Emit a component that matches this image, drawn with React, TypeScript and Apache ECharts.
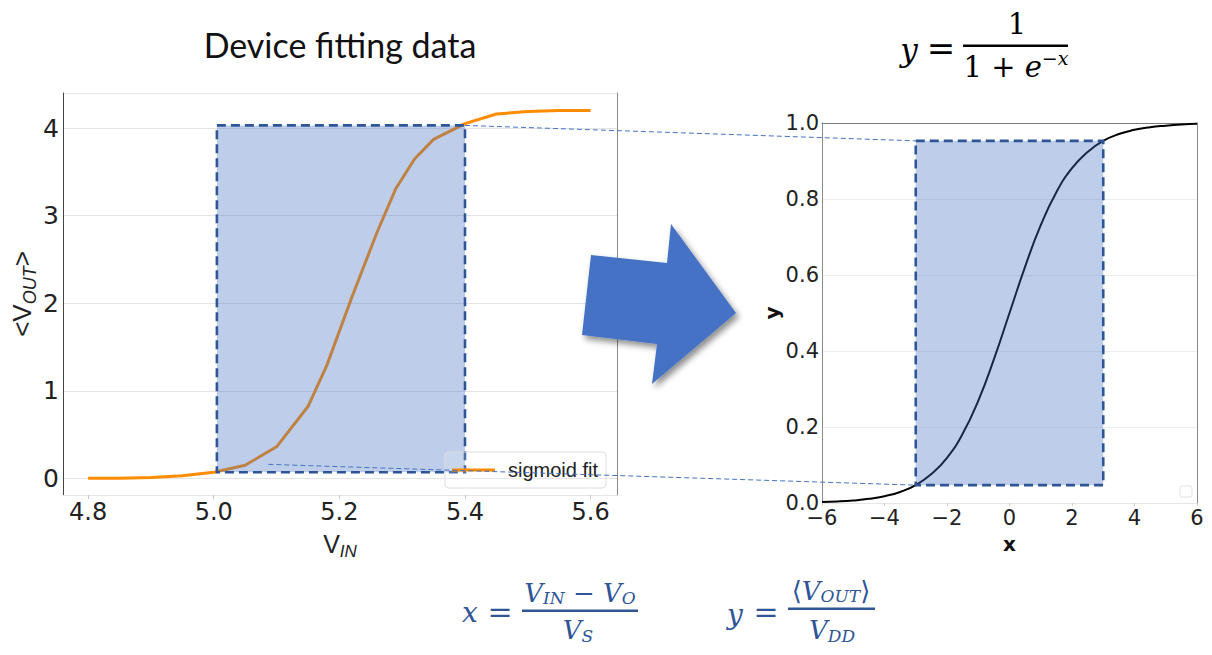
import React, { useEffect, useRef } from "react";
import * as echarts from "echarts";

// ---------- data ----------
const vinValues = [4.8, 4.85, 4.9, 4.95, 5.0, 5.05, 5.1, 5.15, 5.18, 5.22, 5.26, 5.29, 5.32, 5.35, 5.4, 5.45, 5.5, 5.55, 5.6];
const voutValues = [0.0, 0.0, 0.01, 0.03, 0.07, 0.15, 0.36, 0.82, 1.29, 2.07, 2.81, 3.31, 3.65, 3.87, 4.05, 4.16, 4.19, 4.2, 4.2];

const sigX = [-6, -5.5, -5, -4.5, -4, -3.5, -3, -2.5, -2, -1.5, -1, -0.5, 0, 0.5, 1, 1.5, 2, 2.5, 3, 3.5, 4, 4.5, 5, 5.5, 6];
const sigY = [0.0025, 0.004, 0.0067, 0.011, 0.018, 0.029, 0.047, 0.076, 0.119, 0.182, 0.269, 0.378, 0.5, 0.622, 0.731, 0.818, 0.881, 0.924, 0.953, 0.971, 0.982, 0.989, 0.993, 0.996, 0.998];

// highlighted windows [x0, y0, x1, y1]
const leftWindow = [5.005, 0.07, 5.4, 4.03];
const rightWindow = [-3, 0.047, 3, 0.953];

// connector end points (left chart data coords -> right chart data coords)
const connectorTop = [[5.4, 4.03], [-3, 0.953]];
const connectorBottom = [[5.087, 0.16], [-3, 0.047]];

const legendLabel = "sigmoid fit";
const leftTitle = "Device fitting data";

// ---------- helpers ----------
const measureCtx = typeof document !== "undefined" ? document.createElement("canvas").getContext("2d") : null;
function textWidth(t: string, font: string) {
  if (!measureCtx) return t.length * 10;
  measureCtx.font = font;
  return measureCtx.measureText(t).width;
}
type Tok = { t: string; size: number; italic?: boolean; dy?: number; fam?: string; gap?: number };
function fontOf(tk: Tok, fam: string) {
  return `${tk.italic ? "italic " : ""}${tk.size}px "${tk.fam || fam}"`;
}
function formulaRow(tokens: Tok[], cx: number, cy: number, color: string, fam: string) {
  const ws = tokens.map((tk) => textWidth(tk.t, fontOf(tk, fam)) + (tk.gap || 0));
  const total = ws.reduce((a, b) => a + b, 0);
  let x = cx - total / 2;
  return tokens.map((tk, i) => {
    const el = {
      type: "text",
      x,
      y: cy + (tk.dy || 0),
      z: 20,
      style: {
        text: tk.t,
        font: fontOf(tk, fam),
        fill: color,
        align: "left",
        textAlign: "left",
        verticalAlign: "middle",
        textVerticalAlign: "middle",
      },
    };
    x += ws[i];
    return el;
  });
}

function windowSeries(xAxisIndex: number, yAxisIndex: number, win: number[]) {
  return {
    type: "custom",
    xAxisIndex,
    yAxisIndex,
    z: 5,
    silent: true,
    data: [win],
    encode: { x: [0, 2], y: [1, 3] },
    renderItem: (_p: any, api: any) => {
      const a = api.coord([api.value(0), api.value(3)]);
      const b = api.coord([api.value(2), api.value(1)]);
      return {
        type: "rect",
        shape: { x: a[0], y: a[1], width: b[0] - a[0], height: b[1] - a[1] },
        style: {
          fill: "rgba(68,114,196,0.35)",
          stroke: "#2f5597",
          lineWidth: 2.6,
          lineDash: [9, 5],
        },
      };
    },
  };
}

export default function App() {
  const ref = useRef<HTMLDivElement>(null);
  useEffect(() => {
    if (!ref.current) return;
    const chart = echarts.init(ref.current, undefined, { renderer: "svg" });
    const leftFont = "Liberation Sans";
    const tickFont = "DejaVu Sans";
    const rightFont = "DejaVu Sans";
    const mathFont = "DejaVu Serif";
    const option: any = {
      animation: false,
      backgroundColor: "#ffffff",
      grid: [
        { left: 63, top: 93, width: 554, height: 402 },
        { left: 822, top: 123, width: 375, height: 380 },
      ],
      legend: {
        data: [{ name: legendLabel, icon: "rect" }],
        left: 445,
        top: 452,
        orient: "vertical",
        padding: [8, 8, 8, 7],
        itemWidth: 43,
        itemHeight: 3,
        itemGap: 0,
        borderColor: "#dedede",
        borderWidth: 1,
        borderRadius: 4,
        backgroundColor: "rgba(255,255,255,0.15)",
        textStyle: { fontFamily: leftFont, fontSize: 20, color: "#222", padding: [0, 0, 0, 8] },
        z: 8,
      },
      xAxis: [
        {
          type: "value",
          gridIndex: 0,
          min: 4.76,
          max: 5.642,
          minInterval: 0.2,
          maxInterval: 0.2,
          axisLine: { show: true, onZero: false, lineStyle: { color: "#e6e6e6", width: 1 } },
          axisTick: { show: true, length: 4, lineStyle: { color: "#c8c8c8" } },
          axisLabel: {
            fontFamily: tickFont,
            fontSize: 24,
            color: "#222",
            margin: 5,
            showMinLabel: false,
            showMaxLabel: false,
            formatter: (v: number) => v.toFixed(1),
          },
          splitLine: { show: false },
          name: "{v|V}{s|IN}",
          nameLocation: "middle",
          nameGap: 36,
          nameTextStyle: {
            rich: {
              v: { fontFamily: leftFont, fontSize: 25, color: "#222", verticalAlign: "bottom", padding: [0, 0, 4, 0] },
              s: { fontFamily: leftFont, fontSize: 17, fontStyle: "italic", color: "#222", verticalAlign: "bottom" },
            },
          },
        },
        {
          type: "value",
          gridIndex: 1,
          min: -6,
          max: 6,
          interval: 2,
          axisLine: { show: true, onZero: false, lineStyle: { color: "#e6e6e6", width: 1 } },
          axisTick: { show: true, length: 3, lineStyle: { color: "#cfcfcf" } },
          axisLabel: {
            fontFamily: rightFont,
            fontSize: 21,
            color: "#222",
            margin: 4,
            formatter: (v: number) => (v < 0 ? "\u2212" + Math.abs(v) : String(v)),
          },
          splitLine: { show: false },
          name: "x",
          nameLocation: "middle",
          nameGap: 31,
          nameTextStyle: { fontFamily: rightFont, fontSize: 20, fontWeight: "bold", color: "#111" },
        },
        {
          type: "value",
          gridIndex: 1,
          position: "top",
          min: -6,
          max: 6,
          axisLine: { show: true, onZero: false, lineStyle: { color: "#7a7a7a", width: 1 } },
          axisTick: { show: false },
          axisLabel: { show: false },
          splitLine: { show: false },
        },
      ],
      yAxis: [
        {
          type: "value",
          gridIndex: 0,
          min: -0.19,
          max: 4.4,
          minInterval: 1,
          maxInterval: 1,
          axisLine: { show: true, onZero: false, lineStyle: { color: "#444", width: 1 } },
          axisTick: { show: false },
          axisLabel: {
            fontFamily: tickFont,
            fontSize: 25,
            color: "#222",
            margin: 4,
            showMinLabel: false,
            showMaxLabel: false,
          },
          splitLine: { show: true, lineStyle: { color: "#e4e4e4", width: 1 } },
          name: "{a|<V}{s|OUT}{a|>}",
          nameLocation: "middle",
          nameGap: 24,
          nameTextStyle: {
            rich: {
              a: { fontFamily: leftFont, fontSize: 26, color: "#222", verticalAlign: "bottom", padding: [0, 0, 4, 0] },
              s: { fontFamily: leftFont, fontSize: 18, fontStyle: "italic", color: "#222", verticalAlign: "bottom" },
            },
          },
        },
        {
          type: "value",
          gridIndex: 0,
          position: "right",
          min: 0,
          max: 1,
          axisLine: { show: true, onZero: false, lineStyle: { color: "#8a8a8a", width: 1 } },
          axisTick: { show: false },
          axisLabel: { show: false },
          splitLine: { show: false },
        },
        {
          type: "value",
          gridIndex: 1,
          min: 0,
          max: 1,
          interval: 0.2,
          axisLine: { show: true, onZero: false, lineStyle: { color: "#8a8a8a", width: 1 } },
          axisTick: { show: false },
          axisLabel: {
            fontFamily: rightFont,
            fontSize: 21,
            color: "#222",
            margin: 3,
            formatter: (v: number) => v.toFixed(1),
          },
          splitLine: { show: true, lineStyle: { color: "#ededed", width: 1 } },
          name: "y",
          nameLocation: "middle",
          nameGap: 40,
          nameTextStyle: { fontFamily: rightFont, fontSize: 20, fontWeight: "bold", color: "#111" },
        },
        {
          type: "value",
          gridIndex: 1,
          position: "right",
          min: 0,
          max: 1,
          axisLine: { show: true, onZero: false, lineStyle: { color: "#8a8a8a", width: 1 } },
          axisTick: { show: false },
          axisLabel: { show: false },
          splitLine: { show: false },
        },
      ],
      series: [
        {
          name: legendLabel,
          type: "line",
          xAxisIndex: 0,
          yAxisIndex: 0,
          symbol: "none",
          lineStyle: { color: "#ff8c00", width: 3 },
          itemStyle: { color: "#ff8c00" },
          data: vinValues.map((x, i) => [x, voutValues[i]]),
          z: 3,
        },
        windowSeries(0, 0, leftWindow),
        {
          name: "sigmoid",
          type: "line",
          xAxisIndex: 1,
          yAxisIndex: 2,
          symbol: "none",
          smooth: true,
          lineStyle: { color: "#000000", width: 2 },
          data: sigX.map((x, i) => [x, sigY[i]]),
          z: 3,
        },
        windowSeries(1, 2, rightWindow),
      ],
    };
    chart.setOption(option);

    const L = (p: number[]) => chart.convertToPixel({ xAxisIndex: 0, yAxisIndex: 0 }, p) as number[];
    const R = (p: number[]) => chart.convertToPixel({ xAxisIndex: 1, yAxisIndex: 2 }, p) as number[];
    const t0 = L(connectorTop[0]);
    const t1 = R(connectorTop[1]);
    const b0 = L(connectorBottom[0]);
    const b1 = R(connectorBottom[1]);
    const connStyle = { stroke: "#4472c4", lineWidth: 1, lineDash: [5, 3] };

    const blue = "#2f5597";
    const graphic: any[] = [
      {
        type: "text",
        x: 340,
        y: 44,
        z: 20,
        style: {
          text: leftTitle,
          font: '34px "Lato"',
          fill: "#111",
          align: "center",
          textAlign: "center",
          verticalAlign: "middle",
          textVerticalAlign: "middle",
        },
      },
      // arrow
      {
        type: "polygon",
        z: 20,
        shape: { points: [[591, 255], [667, 263], [671, 224], [736, 313], [652, 384], [657, 344], [582, 335]] },
        style: {
          fill: "#4472c4",
          shadowBlur: 6,
          shadowOffsetX: 3,
          shadowOffsetY: 4,
          shadowColor: "rgba(0,0,0,0.45)",
        },
      },
      { type: "line", z: 15, shape: { x1: t0[0], y1: t0[1], x2: t1[0], y2: t1[1] }, style: connStyle },
      { type: "line", z: 15, shape: { x1: b0[0], y1: b0[1], x2: b1[0], y2: b1[1] }, style: connStyle },
      // tiny empty legend box in right chart
      { type: "rect", z: 15, shape: { x: 1180, y: 486, width: 12, height: 11, r: 2 }, style: { fill: "rgba(255,255,255,0)", stroke: "#e2e2e2", lineWidth: 1 } },
      // top formula
      ...formulaRow([{ t: "y", size: 31, italic: true }], 909, 50, "#000", mathFont),
      ...formulaRow([{ t: "=", size: 34 }], 941, 48, "#000", mathFont),
      { type: "rect", z: 20, shape: { x: 963, y: 44.5, width: 105, height: 2.5 }, style: { fill: "#000" } },
      ...formulaRow([{ t: "1", size: 29 }], 1017, 24, "#000", mathFont),
      ...formulaRow(
        [
          { t: "1 + ", size: 29 },
          { t: "e", size: 29, italic: true },
          { t: "\u2212x", size: 19, italic: true, dy: -9 },
        ],
        1016,
        67,
        "#000",
        mathFont
      ),
      // bottom formula x
      ...formulaRow([{ t: "x", size: 28, italic: true }], 470, 612, blue, mathFont),
      ...formulaRow([{ t: "=", size: 30 }], 500, 611, blue, mathFont),
      { type: "rect", z: 20, shape: { x: 522, y: 609.5, width: 116, height: 2.5 }, style: { fill: blue } },
      ...formulaRow(
        [
          { t: "V", size: 26, italic: true },
          { t: "IN", size: 17, italic: true, dy: 5 },
          { t: " \u2212 ", size: 26 },
          { t: "V", size: 26, italic: true },
          { t: "O", size: 17, italic: true, dy: 5 },
        ],
        580,
        593,
        blue,
        mathFont
      ),
      ...formulaRow(
        [
          { t: "V", size: 26, italic: true },
          { t: "S", size: 17, italic: true, dy: 6 },
        ],
        578,
        630,
        blue,
        mathFont
      ),
      // bottom formula y
      ...formulaRow([{ t: "y", size: 28, italic: true }], 735, 614, blue, mathFont),
      ...formulaRow([{ t: "=", size: 30 }], 766, 611, blue, mathFont),
      { type: "rect", z: 20, shape: { x: 788, y: 607.5, width: 87, height: 2.5 }, style: { fill: blue } },
      ...formulaRow(
        [
          { t: "\u27E8", size: 26 },
          { t: "V", size: 26, italic: true },
          { t: "OUT", size: 17, italic: true, dy: 5 },
          { t: "\u27E9", size: 26 },
        ],
        831,
        591,
        blue,
        mathFont
      ),
      ...formulaRow(
        [
          { t: "V", size: 26, italic: true },
          { t: "DD", size: 17, italic: true, dy: 6 },
        ],
        832,
        630,
        blue,
        mathFont
      ),
    ];
    chart.setOption({ graphic });

    return () => chart.dispose();
  }, []);
  return <div ref={ref} style={{ position: "absolute", left: 0, top: 0, width: 1212, height: 655 }} />;
}
